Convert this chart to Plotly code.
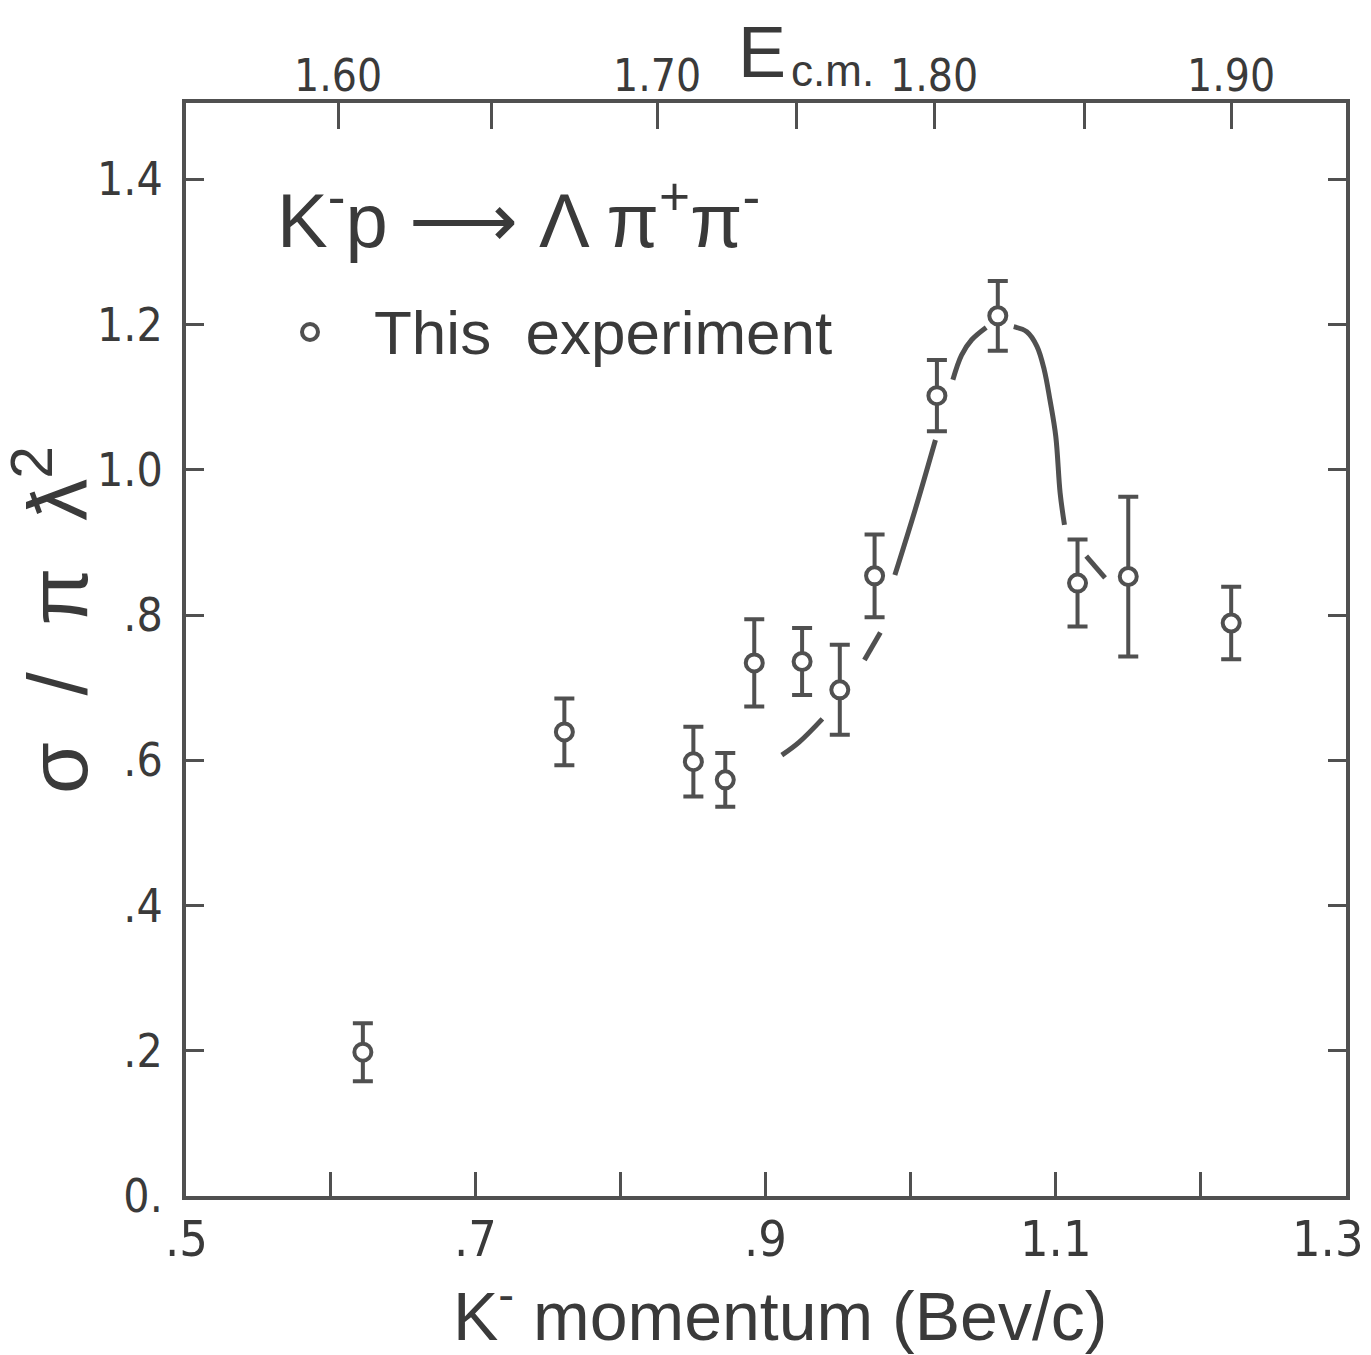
import plotly.graph_objects as go

# ---- data ----
momentum = [0.622, 0.761, 0.850, 0.872, 0.892, 0.925, 0.951, 0.975, 1.018, 1.060, 1.115, 1.150, 1.221]
sigma = [0.198, 0.639, 0.598, 0.573, 0.734, 0.736, 0.697, 0.854, 1.102, 1.212, 0.844, 0.853, 0.789]
sigma_err = [0.040, 0.046, 0.048, 0.037, 0.060, 0.046, 0.062, 0.057, 0.049, 0.048, 0.060, 0.110, 0.050]

# hand-drawn curve, broken where it passes the points (None = gap)
curve_p = [0.911, 0.923, 0.939, None,
           0.968, 0.979, None,
           0.989, 1.003, 1.017, None,
           1.029, 1.035, 1.042, 1.052, None,
           1.071, 1.080, 1.087, 1.092, 1.096, 1.100, 1.103, 1.106, None,
           1.121, 1.134]
curve_s = [0.607, 0.625, 0.657, None,
           0.738, 0.776, None,
           0.855, 0.945, 1.041, None,
           1.124, 1.158, 1.179, 1.196, None,
           1.197, 1.190, 1.170, 1.138, 1.096, 1.046, 0.968, 0.924, None,
           0.881, 0.851]

x_tickvals = [0.5, 0.6, 0.7, 0.8, 0.9, 1.0, 1.1, 1.2, 1.3]
x_ticktext = ['.5', '', '.7', '', '.9', '', '1.1', '', '1.3']
y_tickvals = [0.0, 0.2, 0.4, 0.6, 0.8, 1.0, 1.2, 1.4]
y_ticktext = ['0.', '.2', '.4', '.6', '.8', '1.0', '1.2', '1.4']
# top axis: E c.m. ticks, placed at the momentum where they are drawn
ecm_tick_p = [0.605, 0.711, 0.825, 0.921, 1.016, 1.120, 1.221]
ecm_ticktext = ['1.60', '', '1.70', '', '1.80', '', '1.90']

INK = '#3a3a3a'
LINE = '#505050'
FONT = 'Liberation Sans, Arial, sans-serif'
NARROW = 'Liberation Sans Narrow, DejaVu Sans Condensed, Liberation Sans, sans-serif'

fig = go.Figure()

fig.add_trace(go.Scatter(
    x=curve_p, y=curve_s, mode='lines', connectgaps=False,
    line=dict(color=LINE, width=5, shape='spline'),
    showlegend=False, hoverinfo='skip'))

fig.add_trace(go.Scatter(
    x=momentum, y=sigma, mode='markers',
    error_y=dict(type='data', array=sigma_err, visible=True,
                 color=LINE, thickness=4, width=10),
    marker=dict(symbol='circle', size=17, color='white',
                line=dict(color=LINE, width=4)),
    showlegend=False))

# invisible trace to hold the top axis
fig.add_trace(go.Scatter(x=[0.5, 1.3], y=[0, 0], xaxis='x2', mode='markers',
                         marker=dict(opacity=0), showlegend=False, hoverinfo='skip'))

fig.update_layout(
    width=1371, height=1355, autosize=False,
    margin=dict(l=186, r=25, t=103, b=159, autoexpand=False),
    paper_bgcolor='white', plot_bgcolor='white',
    font=dict(family=FONT, color=INK),
    xaxis=dict(range=[0.5, 1.3002], tickvals=x_tickvals, showticklabels=False,
               ticks='inside', ticklen=24, tickwidth=3, tickcolor=LINE,
               showline=True, linewidth=4, linecolor=LINE, mirror=False,
               showgrid=False, zeroline=False, automargin=False),
    xaxis2=dict(range=[0.5, 1.3002], overlaying='x', side='top', anchor='y',
                tickvals=ecm_tick_p, showticklabels=False, automargin=False,
                ticks='inside', ticklen=26, tickwidth=3, tickcolor=LINE,
                showline=True, linewidth=4, linecolor=LINE,
                showgrid=False, zeroline=False),
    yaxis=dict(range=[0, 1.505], tickvals=y_tickvals, ticktext=y_ticktext,
               ticks='inside', ticklen=18, tickwidth=3, tickcolor=LINE,
               showline=True, linewidth=4, linecolor=LINE, mirror='ticks',
               showgrid=False, zeroline=False, automargin=False,
               tickfont=dict(size=46, family=NARROW, color=INK),
               ticklabelstandoff=10),
)

annos = [
    dict(text='K<sup>-</sup>p ⟶ Λ π<sup>+</sup>π<sup>-</sup>', x=0.0767, y=0.8975,
         xanchor='left', yanchor='middle', font=dict(size=76)),
    dict(text='This  experiment', x=(372 - 186) / 1160, y=0.790,
         xanchor='left', yanchor='middle', font=dict(size=62)),
    dict(text='E', x=0.4966, y=1.0467, xanchor='center', yanchor='middle',
         font=dict(size=72)),
    dict(text='c.m.', x=0.5569, y=1.030, xanchor='center', yanchor='middle',
         font=dict(size=44)),
    dict(text='K<sup>-</sup> momentum (Bev/c)', x=0.512, y=-0.105,
         xanchor='center', yanchor='middle', font=dict(size=68)),
    dict(text='σ  /  π  ƛ<sup>2</sup>', x=-0.1155, y=0.527, textangle=-90,
         xanchor='center', yanchor='middle', font=dict(size=84)),
]
for a in annos:
    a.update(xref='paper', yref='paper', showarrow=False)
    a['font'].update(family=FONT, color=INK)

# bottom-axis labels (momentum); last one nudged inward to stay on the page
for v, t in zip(x_tickvals, x_ticktext):
    if t:
        annos.append(dict(text=t, x=v, xref='x', y=0.0, yref='paper',
                          xanchor='center', yanchor='top', yshift=-12,
                          xshift=-18 if v == x_tickvals[-1] else 0,
                          showarrow=False,
                          font=dict(size=50, family=NARROW, color=INK)))

# top-axis labels (E c.m.)
for p, t in zip(ecm_tick_p, ecm_ticktext):
    if t:
        annos.append(dict(text=t, x=p, xref='x', y=1.0, yref='paper',
                          xanchor='center', yanchor='bottom', yshift=0,
                          showarrow=False,
                          font=dict(size=44, family=NARROW, color=INK)))
fig.update_layout(annotations=annos)

# legend sample circle
cx, cy, rx, ry = (310 - 186) / 1160, (1196 - 332) / 1093, 8 / 1160, 8 / 1093
fig.add_shape(type='circle', xref='paper', yref='paper',
              x0=cx - rx, x1=cx + rx, y0=cy - ry, y1=cy + ry,
              line=dict(color=LINE, width=4), fillcolor='white')

fig.write_html('out.html')
